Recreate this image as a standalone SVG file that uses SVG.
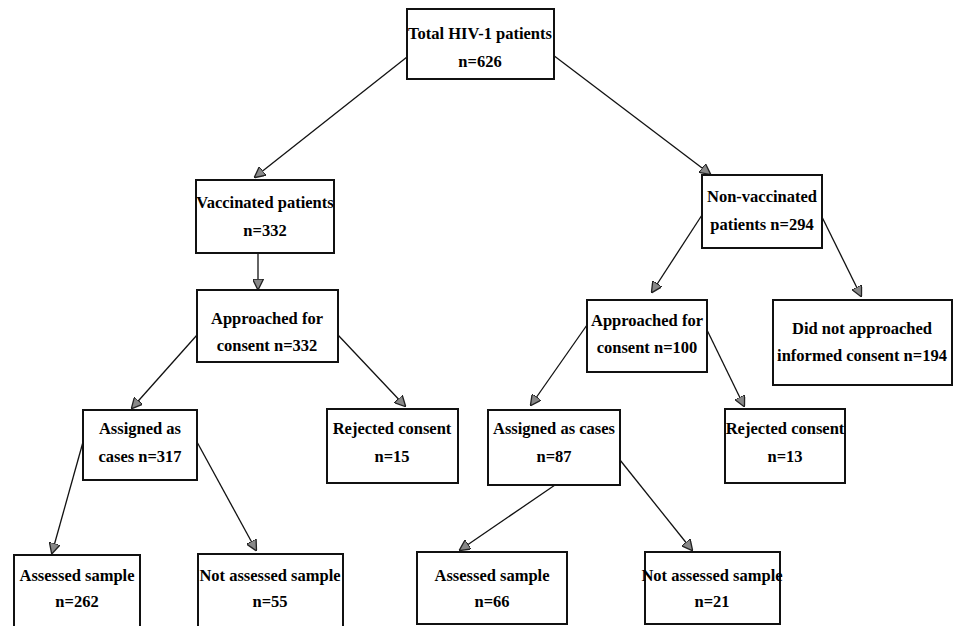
<svg xmlns="http://www.w3.org/2000/svg" width="959" height="626" viewBox="0 0 959 626">
<defs>
<style>
.box rect{fill:#fff;stroke:#111;stroke-width:2}
.box text{font-family:"Liberation Serif","Times New Roman",serif;font-weight:bold;font-size:16.5px;fill:#000;text-anchor:middle}
.conn line{stroke:#111;stroke-width:1.3;marker-end:url(#ah)}
</style>
<marker id="ah" viewBox="0 0 10 10" refX="9" refY="5" markerWidth="11" markerHeight="11" markerUnits="userSpaceOnUse" orient="auto">
<path d="M0,0 L10,5 L0,10 Z" fill="#888" stroke="#222" stroke-width="1.2"/>
</marker>
</defs>
<rect width="959" height="626" fill="#fff"/>
<g class="conn">
<line x1="407" y1="57" x2="255" y2="177"/>
<line x1="553" y1="55" x2="710" y2="174"/>
<line x1="258" y1="254" x2="258" y2="289"/>
<line x1="197" y1="335" x2="132" y2="408"/>
<line x1="338" y1="335" x2="405" y2="406"/>
<line x1="702" y1="215" x2="652" y2="292"/>
<line x1="822" y1="217" x2="861" y2="296"/>
<line x1="587" y1="325" x2="531" y2="405"/>
<line x1="707" y1="330" x2="744" y2="406"/>
<line x1="83" y1="442" x2="52" y2="553"/>
<line x1="197" y1="442" x2="256" y2="550"/>
<line x1="555" y1="485" x2="460" y2="550"/>
<line x1="620" y1="460" x2="692" y2="550"/>
</g>
<g id="total" class="box"><rect x="407" y="9" width="147" height="70"/><text x="480" y="39">Total HIV-1 patients</text><text x="480" y="67">n=626</text></g>
<g id="vacc" class="box"><rect x="196" y="180" width="138" height="73"/><text x="265" y="208">Vaccinated patients</text><text x="265" y="236">n=332</text></g>
<g id="nonvacc" class="box"><rect x="702" y="175" width="120" height="73"/><text x="762" y="202">Non-vaccinated</text><text x="762" y="230">patients n=294</text></g>
<g id="appr332" class="box"><rect x="197" y="290" width="141" height="72"/><text x="267" y="324">Approached for</text><text x="267" y="351">consent n=332</text></g>
<g id="appr100" class="box"><rect x="587" y="300" width="120" height="72"/><text x="647" y="326">Approached for</text><text x="647" y="353">consent n=100</text></g>
<g id="notappr" class="box"><rect x="773" y="300" width="179" height="85"/><text x="862" y="334">Did not approached</text><text x="862" y="361">informed consent n=194</text></g>
<g id="assign317" class="box"><rect x="83" y="410" width="114" height="70"/><text x="140" y="434">Assigned as</text><text x="140" y="462">cases n=317</text></g>
<g id="rej15" class="box"><rect x="327" y="409" width="131" height="74"/><text x="392" y="434">Rejected consent</text><text x="392" y="462">n=15</text></g>
<g id="assign87" class="box"><rect x="488" y="410" width="132" height="75"/><text x="554" y="434">Assigned as cases</text><text x="554" y="462">n=87</text></g>
<g id="rej13" class="box"><rect x="725" y="409" width="120" height="74"/><text x="785" y="434">Rejected consent</text><text x="785" y="462">n=13</text></g>
<g id="assess262" class="box"><rect x="14" y="555" width="126" height="80"/><text x="77" y="581">Assessed sample</text><text x="77" y="607">n=262</text></g>
<g id="notassess55" class="box"><rect x="198" y="554" width="145" height="80"/><text x="270" y="581">Not assessed sample</text><text x="270" y="607">n=55</text></g>
<g id="assess66" class="box"><rect x="417" y="552" width="150" height="72"/><text x="492" y="581">Assessed sample</text><text x="492" y="607">n=66</text></g>
<g id="notassess21" class="box"><rect x="645" y="552" width="135" height="72"/><text x="712" y="581">Not assessed sample</text><text x="712" y="607">n=21</text></g>
</svg>
